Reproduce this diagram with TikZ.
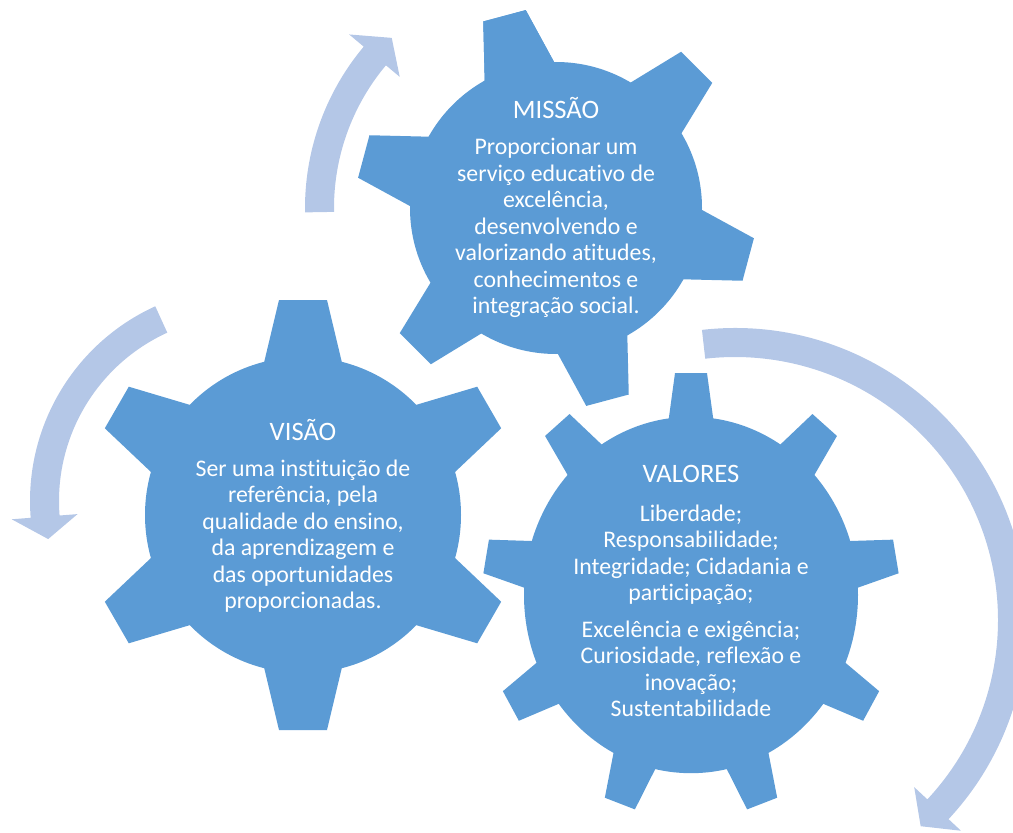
\documentclass[tikz,border=0pt]{standalone}
\usepackage{fontspec}
\setmainfont[Ligatures=NoCommon]{Carlito}
\usepackage{tikz}
\definecolor{gearblue}{HTML}{5B9BD5}
\definecolor{arrowblue}{HTML}{B4C7E7}

\begin{document}
\begin{tikzpicture}[x=0.5pt, y=0.5pt,
    title/.style = {text=white, font=\fontsize{13.3}{15}\selectfont},
    body/.style = {text=white, align=center, font=\fontsize{11.9}{13.25}\selectfont}]
  \clip (0,0) rectangle (1013,832);

  \coordinate (cM) at (556,624);
  \coordinate (cV) at (303,317);
  \coordinate (cL) at (691,237);

  % curved arrows
  \begin{scope}[shift={(556,624)}]
    \fill[arrowblue] (181:251) arc[start angle=181, end angle=140, radius=251]
      -- (140:270) -- (134:236.5) -- (140:204) -- (140:222)
      arc[start angle=140, end angle=181, radius=222] -- cycle;
  \end{scope}
  \begin{scope}[shift={(244,331)}]
    \fill[arrowblue] (114.5:214) arc[start angle=114.5, end angle=184.5, radius=214]
      -- (184.5:233) -- (191:199.5) -- (184.5:167) -- (184.5:185)
      arc[start angle=184.5, end angle=114.5, radius=185] -- cycle;
  \end{scope}
  \begin{scope}[shift={(735,212)}]
    \fill[arrowblue] (96.5:292) arc[start angle=96.5, end angle=-43, radius=292]
      -- (-43:309) -- (-48:277.5) -- (-43:245) -- (-43:263)
      arc[start angle=-43, end angle=96.5, radius=263] -- cycle;
  \end{scope}

  % gears
  \begin{scope}[shift={(cM)}]
    \fill[gearblue] (0,0) circle (146);
    \foreach \a in {105,165,...,465}
      \fill[gearblue, rotate=\a] (137,-37) -- (199,-22) -- (199,22) -- (137,37) -- cycle;
  \end{scope}
  \begin{scope}[shift={(cV)}]
    \fill[gearblue] (0,0) circle (158);
    \foreach \a in {30,90,...,330}
      \fill[gearblue, rotate=\a] (148,-40) -- (215,-24) -- (215,24) -- (148,40) -- cycle;
  \end{scope}
  \begin{scope}[shift={(cL)}, yscale=1.067]
    \fill[gearblue] (0,0) circle (167);
    \foreach \a in {90,130,...,410}
      \fill[gearblue, rotate=\a] (160,-23) -- (208,-16) -- (208,16) -- (160,23) -- cycle;
  \end{scope}

  % texts
  \node[title] (missao) at (556,724) {MISSÃO};
  \node[body] (missaoTxt) at (556,604) {Proporcionar um\\serviço educativo de\\excelência,\\desenvolvendo e\\valorizando atitudes,\\conhecimentos e\\integração social.};

  \node[title] (visao) at (303,402) {VISÃO};
  \node[body] (visaoTxt) at (303,296) {Ser uma instituição de\\referência, pela\\qualidade do ensino,\\da aprendizagem e\\das oportunidades\\proporcionadas.};

  \node[title] (valores) at (691,358) {VALORES};
  \node[body] (valoresTxt) at (691,221) {Liberdade;\\Responsabilidade;\\Integridade; Cidadania e\\participação;\\[5pt]Excelência e exigência;\\Curiosidade, reflexão e\\inovação;\\Sustentabilidade};
\end{tikzpicture}
\end{document}
